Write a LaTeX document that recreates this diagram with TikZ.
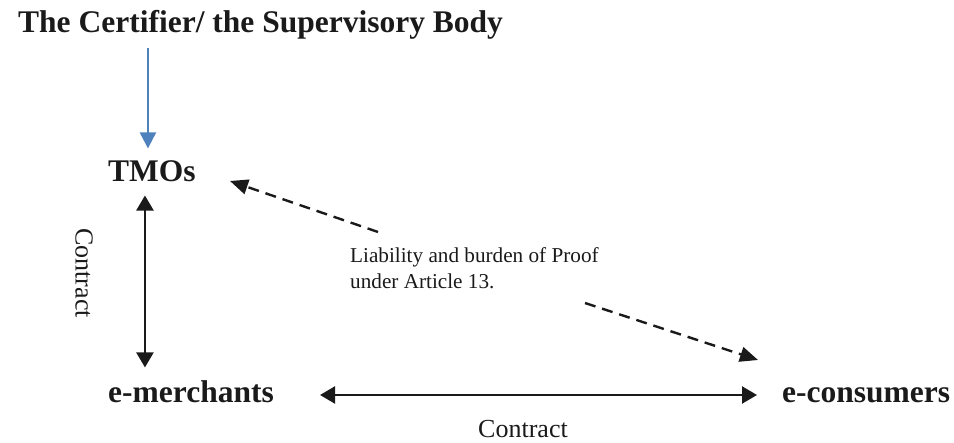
\documentclass[tikz,border=0pt]{standalone}
\usepackage{fontspec}
\setmainfont{Liberation Serif}
\usetikzlibrary{arrows.meta}
\definecolor{inkblack}{HTML}{1A1A1A}
\definecolor{officeblue}{HTML}{4F81BD}
\tikzset{
  party/.style={inner sep=0pt, text=inkblack, font=\fontsize{31.5}{36}\selectfont\bfseries},
  plain/.style={inner sep=0pt, text=inkblack, font=\fontsize{26}{30}\selectfont},
  note/.style={inner sep=0pt, text=inkblack, align=left, font=\fontsize{21.2}{26}\selectfont},
  supervise/.style={draw=officeblue, line width=2.2pt, -{Triangle[length=16pt,width=16pt]}},
  twoway/.style={draw=inkblack, line width=2.3pt, {Triangle[length=15pt,width=17pt]}-{Triangle[length=15pt,width=17pt]}},
  liability/.style={draw=inkblack, line width=2.4pt, dash pattern=on 11pt off 7pt, -{Triangle[length=18pt,width=15pt]}}
}
\begin{document}
\begin{tikzpicture}[x=1pt,y=-1pt]
  \useasboundingbox (0,0) rectangle (954,443);

  % parties
  \node[party, anchor=base west] (cert) at (18,33) {The Certifier/ the Supervisory Body};
  \node[party, anchor=base west] (tmos) at (108,182) {TMOs};
  \node[party, anchor=base west] (merch) at (108,403) {e-merchants};
  \node[party, anchor=base west] (cons) at (782,403) {e-consumers};

  % labels
  \node[plain, rotate=-90] (clabv) at (84,273) {Contract};
  \node[plain, anchor=base] (clabh) at (523,438) {Contract};
  \node[note, anchor=base west] (liab) at (350,289) {Liability and burden of Proof\\under Article 13.};

  % supervision
  \draw[supervise, shorten <=8pt, shorten >=12.5pt]
    ([xshift=-4pt]tmos.north |- cert.south) -- ([xshift=-4pt]tmos.north);

  % contracts
  \draw[twoway, shorten <=13pt, shorten >=13.5pt]
    ([xshift=-7pt]tmos.south) -- ([xshift=-7pt]tmos.south |- merch.north);
  \draw[twoway, shorten <=46pt, shorten >=25pt]
    ([yshift=8pt]merch.base east) -- ([yshift=8pt]cons.base west);

  % liability
  \coordinate (liabA) at (378,232);
  \coordinate (liabB) at (230,181);
  \coordinate (liabC) at (585,303);
  \coordinate (liabD) at (758,360);
  \draw[liability] (liabA) -- (liabB);
  \draw[liability] (liabC) -- (liabD);
\end{tikzpicture}
\end{document}
